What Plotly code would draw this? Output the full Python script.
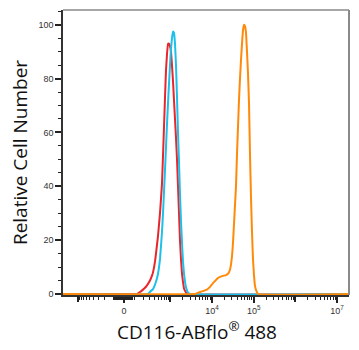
import numpy as np
import plotly.graph_objects as go

# ---- data (fluorescence intensity, relative cell number) ----
red_x = [-3000, 100, 121, 155, 194, 223, 254, 307, 347, 369, 415, 440, 495, 555, 622, 697, 738, 780,
         825, 874, 924, 977, 1032, 1091, 1155, 1220, 1290, 1364, 1443, 1525, 1612, 1703, 1800,
         1904, 2011, 2127, 2376, 2511, 3.0e7]
red_y = [0, 0, 0, 0.7, 1.6, 2.3, 3.2, 5, 6.8, 8, 12, 15, 21.6, 30, 41, 62, 73, 83,
         89, 93, 93, 92, 90, 85, 79, 72, 65, 58, 50, 40, 30, 20, 13,
         7.5, 4.5, 2, 0.5, 0, 0]

blue_x = [-3000, 271, 307, 369, 440, 495, 555, 622, 659, 738, 825, 874, 977, 1032, 1091, 1155, 1220,
          1290, 1364, 1443, 1525, 1612, 1703, 1800, 1904, 2011, 2127, 2376, 2654, 2962, 3.0e7]
blue_y = [0, 0, 0.8, 1.8, 4.5, 7.5, 13, 23, 30, 46, 63, 71, 85, 91, 95, 97.5, 97,
          93, 85, 73, 60, 49, 37, 27, 19, 12, 7.5, 2.5, 0.5, 0, 0]

orange_x = [-3000, 3905, 4365, 5152, 6422, 7580, 8950, 10560, 11790, 13165, 15540, 17355, 19380,
            21640, 24180, 27000, 28530, 30150, 31860, 33660, 35580, 37580, 39730, 41980, 44370,
            46870, 49570, 52370, 55340, 58470, 61780, 65320, 69010, 72910, 77040, 81390, 86080,
            90970, 96100, 101600, 107300, 113400, 126600, 3.0e7]
orange_y = [0, 0, 0.3, 0.7, 1.2, 1.6, 2.6, 4, 4.8, 5.6, 6.3, 6.6, 6.8,
            7, 7.5, 9, 11, 14, 19, 26, 33, 40, 52, 62, 72,
            80, 87, 93, 98, 100, 99.5, 97, 90, 82, 71, 52, 36,
            23, 13, 7, 3, 1.5, 0, 0]

x_label_vals = [0, 1e4, 1e5, 1e7]
x_label_text = ["0", "10<sup>4</sup>", "10<sup>5</sup>", "10<sup>7</sup>"]
x_unlabeled_major_vals = [-1000, 1000, 1e6]
x_minor_vals = ([-m * 10 ** k for k in (1, 2) for m in range(2, 10)] + [-10, -100]
                + [m * 10 ** k for k in (1, 2, 3, 4, 5, 6) for m in range(2, 10)] + [10, 100])

y_major_vals = [0, 20, 40, 60, 80, 100]

x_title = "CD116-ABflo<sup>®</sup> 488"
y_title = "Relative Cell Number"

W = 155.0
X_RANGE = [-1.4628, 5.3957]


def biex(v):
    return np.arcsinh(np.asarray(v, dtype=float) / W) / np.log(10)


fig = go.Figure()
for xs, ys, col in [(red_x, red_y, "#e8262b"), (blue_x, blue_y, "#1cc0ea"),
                    (orange_x, orange_y, "#ff8a0a")]:
    fig.add_trace(go.Scatter(x=biex(xs), y=ys, mode="lines",
                             line=dict(color=col, width=2, shape="spline", smoothing=0.3),
                             hoverinfo="skip", showlegend=False))

# invisible trace so the secondary (unlabelled major tick) axis is drawn
fig.add_trace(go.Scatter(x=[X_RANGE[0]], y=[0], xaxis="x2", mode="markers",
                         marker=dict(size=0.1, opacity=0), hoverinfo="skip", showlegend=False))

tick_font = dict(family="Liberation Sans, Arial, sans-serif", size=9, color="#333333")
title_font_family = "Open Sans, Noto Sans, sans-serif"

fig.update_layout(
    width=359, height=350,
    margin=dict(l=63, r=10, t=10, b=55),
    paper_bgcolor="white", plot_bgcolor="white",
    showlegend=False,
    xaxis=dict(
        range=X_RANGE, showgrid=False, zeroline=False,
        showline=True, linecolor="#333333", linewidth=1.5, layer="below traces",
        ticks="outside", ticklen=6, tickwidth=1.5, tickcolor="#222222",
        tickmode="array", tickvals=biex(x_label_vals).tolist(), ticktext=x_label_text,
        tickfont=tick_font,
        minor=dict(tickmode="array", tickvals=biex(x_minor_vals).tolist(), ticks="outside",
                   ticklen=3, tickwidth=1, tickcolor="#222222", showgrid=False),
    ),
    xaxis2=dict(
        range=X_RANGE, overlaying="x", anchor="y", side="bottom",
        showgrid=False, zeroline=False, showline=False, showticklabels=False,
        ticks="outside", ticklen=6, tickwidth=1.5, tickcolor="#222222",
        tickmode="array", tickvals=biex(x_unlabeled_major_vals).tolist(),
    ),
    yaxis=dict(
        range=[-0.4, 105.5], showgrid=False, zeroline=False,
        showline=True, linecolor="#333333", linewidth=1.5, layer="below traces",
        ticks="outside", ticklen=6, tickwidth=1.5, tickcolor="#222222",
        tickmode="array", tickvals=y_major_vals, tickfont=tick_font,
        minor=dict(dtick=5, ticks="outside", ticklen=3, tickwidth=1, tickcolor="#222222",
                   showgrid=False),
        title=dict(text=y_title,
                   font=dict(family=title_font_family, size=19, color="#111111"),
                   standoff=6),
    ),
    shapes=[
        dict(type="line", xref="paper", yref="paper", x0=0, x1=1, y0=1, y1=1,
             line=dict(color="#8a8a8a", width=1.5)),
        dict(type="line", xref="paper", yref="paper", x0=1, x1=1, y0=0, y1=1,
             line=dict(color="#8a8a8a", width=2)),
    ],
    annotations=[
        dict(text=x_title, xref="paper", yref="paper",
             x=(197 - 63) / 286, y=-0.128, xanchor="center", yanchor="middle", showarrow=False,
             font=dict(family=title_font_family, size=19, color="#111111")),
    ],
)

fig.write_html("out.html")
